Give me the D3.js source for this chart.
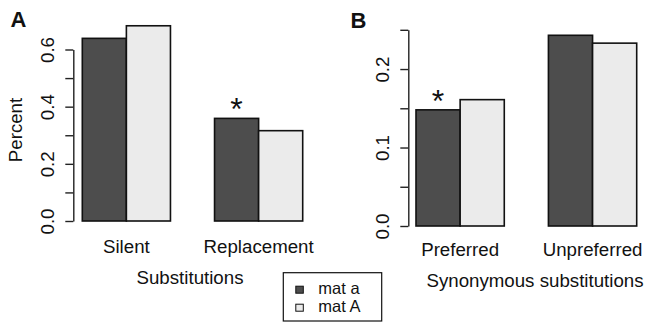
<!DOCTYPE html>
<meta charset="utf-8">
<style>
    body { margin: 0; background: #fff; }
    text { font-family: "Liberation Sans", Arial, sans-serif; fill: #111; }
    .axis path, .axis line { stroke: #222; stroke-width: 1.4px; }
    .axis text { font-size: 18.7px; }
    .lab { font-size: 18.7px; }
    .panel { font-size: 22px; font-weight: bold; }
    .star { font-size: 32px; }
</style>
<body>
<svg></svg>

<script src="https://d3js.org/d3.v4.min.js"></script>
<script type='text/javascript'>

    // series names + colours
    var series = ['mat a', 'mat A'];
    var colors = ['#4d4d4d', '#ebebeb'];

    // panel A
    var catsA = ['Silent', 'Replacement'];
    var matLowA = [0.639, 0.359];
    var matUpA = [0.683, 0.316];
    var ticksA = [0, 0.1, 0.2, 0.3, 0.4, 0.5, 0.6];
    var labelsA = ['0.0', '0.2', '0.4', '0.6'];
    var starsA = [false, true];

    // panel B
    var catsB = ['Preferred', 'Unpreferred'];
    var matLowB = [0.148, 0.243];
    var matUpB = [0.161, 0.233];
    var ticksB = [0, 0.05, 0.1, 0.15, 0.2, 0.25];
    var labelsB = ['0.0', '0.1', '0.2'];
    var starsB = [true, false];

    var W = 649, H = 323;
    var svg = d3.select('svg').attr('width', W).attr('height', H);

    function panel(opt) {
        var g = svg.append('g');

        var y = d3.scaleLinear().domain(opt.ydom).range([opt.y0, opt.y1]);
        var x = d3.scaleBand().domain(opt.cats).range([opt.x0, opt.x1])
            .paddingInner(1 / 3).paddingOuter(0);
        var xi = d3.scaleBand().domain(series).range([0, x.bandwidth()]);

        var rows = opt.cats.map(function(c, i) {
            return {cat: c, vals: [opt.low[i], opt.up[i]], star: opt.stars[i]};
        });

        var grp = g.selectAll('g.grp').data(rows).enter().append('g')
            .attr('class', 'grp')
            .attr('transform', function(d) { return 'translate(' + x(d.cat) + ',0)'; });

        grp.selectAll('rect')
            .data(function(d) { return d.vals.map(function(v, k) { return {s: series[k], v: v, k: k}; }); })
            .enter().append('rect')
            .attr('x', function(d) { return xi(d.s); })
            .attr('y', function(d) { return y(d.v); })
            .attr('width', xi.bandwidth())
            .attr('height', function(d) { return y(0) - y(d.v); })
            .attr('fill', function(d) { return colors[d.k]; })
            .attr('stroke', '#111')
            .attr('stroke-width', 1.6);

        grp.filter(function(d) { return d.star; }).append('text')
            .attr('class', 'star')
            .attr('x', xi(series[0]) + xi.bandwidth() / 2)
            .attr('y', function(d) { return y(d.vals[0]) + 2; })
            .attr('text-anchor', 'middle')
            .text('*');

        grp.append('text')
            .attr('class', 'lab')
            .attr('x', x.bandwidth() / 2)
            .attr('y', opt.catY)
            .attr('text-anchor', 'middle')
            .text(function(d) { return d.cat; });

        var ax = g.append('g')
            .attr('class', 'axis')
            .attr('transform', 'translate(' + opt.axX + ',0)')
            .call(d3.axisLeft(y).tickValues(opt.ticks).tickSize(8).tickSizeOuter(0)
                .tickFormat(function(d) {
                    var s = d3.format('.1f')(d);
                    return opt.labels.indexOf(s) >= 0 && Math.abs(d * 10 - Math.round(d * 10)) < 1e-6 ? s : '';
                }));
        ax.select('.domain').attr('fill', 'none');
        ax.selectAll('text')
            .attr('transform', 'rotate(-90)')
            .attr('x', 0)
            .attr('y', -19.5)
            .attr('dy', 0)
            .attr('text-anchor', 'middle')
            .attr('fill', '#111')
            .attr('font-family', null)
            .attr('font-size', null);

        g.append('text')
            .attr('class', 'lab')
            .attr('x', opt.titleX)
            .attr('y', opt.titleY)
            .attr('text-anchor', 'middle')
            .text(opt.title);

        g.append('text')
            .attr('class', 'panel')
            .attr('x', opt.pX)
            .attr('y', opt.pY)
            .text(opt.pLab);
    }

    panel({cats: catsA, low: matLowA, up: matUpA, stars: starsA, ticks: ticksA, labels: labelsA,
        ydom: [0, 0.6], y0: 221, y1: 49.5, x0: 82.3, x1: 302.7, axX: 73.3,
        catY: 252.5, title: 'Substitutions', titleX: 190, titleY: 283.5,
        pLab: 'A', pX: 10.5, pY: 26.5});

    panel({cats: catsB, low: matLowB, up: matUpB, stars: starsB, ticks: ticksB, labels: labelsB,
        ydom: [0, 0.25], y0: 226, y1: 29.8, x0: 416, x1: 636.7, axX: 408.3,
        catY: 255.5, title: 'Synonymous substitutions', titleX: 535, titleY: 287,
        pLab: 'B', pX: 350.5, pY: 27.5});

    // y title
    svg.append('text')
        .attr('class', 'lab')
        .attr('transform', 'translate(22,130)rotate(-90)')
        .attr('text-anchor', 'middle')
        .text('Percent');

    // legend
    var leg = svg.append('g').attr('transform', 'translate(283.3,272.7)');
    leg.append('rect')
        .attr('width', 98.4).attr('height', 48.3)
        .attr('fill', '#fff').attr('stroke', '#111').attr('stroke-width', 1.2);
    var li = leg.selectAll('g.li').data(series).enter().append('g')
        .attr('class', 'li')
        .attr('transform', function(d, i) { return 'translate(0,' + (i * 18) + ')'; });
    li.append('rect')
        .attr('x', 12.5).attr('y', 13.5).attr('width', 7.5).attr('height', 7)
        .attr('fill', function(d, i) { return colors[i]; })
        .attr('stroke', '#111').attr('stroke-width', 1);
    li.append('text')
        .attr('x', 35).attr('y', 21)
        .style('font-size', '16.5px')
        .text(function(d) { return d; });

</script>
